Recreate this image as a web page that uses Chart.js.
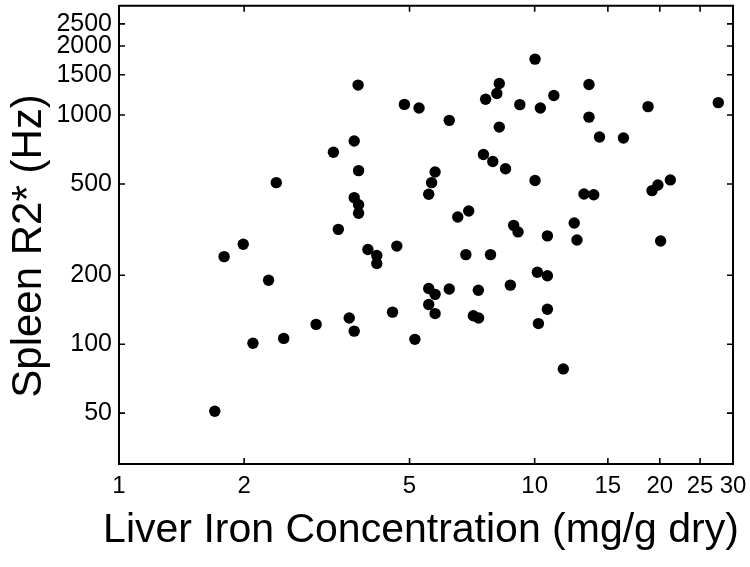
<!DOCTYPE html>
<html><head><meta charset="utf-8">
<script src="https://cdn.jsdelivr.net/npm/chart.js@4.4.1/dist/chart.umd.min.js"></script>
<style>html,body{margin:0;padding:0;background:#fff}</style>
</head><body>
<canvas id="c" width="750" height="567"></canvas>
<script>
// Liver iron concentration (mg/g dry) for each patient
const liverIron = [1.70,1.79,1.99,2.10,2.29,2.39,2.49,2.98,3.28,3.37,3.58,3.68,3.68,3.68,3.76,3.77,3.77,3.77,3.97,4.17,4.17,4.55,4.66,4.86,5.15,5.27,5.56,5.56,5.56,5.65,5.76,5.76,5.76,6.23,6.23,6.53,6.83,6.94,7.12,7.32,7.33,7.53,7.62,7.83,7.93,8.11,8.22,8.22,8.51,8.74,8.90,9.12,9.21,10.02,10.02,10.15,10.21,10.32,10.73,10.73,10.73,11.12,11.72,12.45,12.64,13.14,13.51,13.51,13.87,14.32,16.35,18.74,19.16,19.79,20.09,21.20,27.65];
// Spleen R2* (Hz) for each patient
const spleenR2 = [51,241,273,101,190,507,106,122,688,317,130,770,436,114,1351,572,406,373,259,244,225,138,268,1113,105,1073,451,175,149,507,564,165,136,948,174,359,246,381,133,172,130,673,1171,246,627,1241,1372,886,583,181,330,309,1110,1754,518,206,123,1073,297,199,142,1216,78,338,285,452,1360,979,449,802,794,1088,468,495,282,521,1133];
const xTickValues = [1,2,5,10,15,20,25,30];
const yTickValues = [50,100,200,500,1000,1500,2000,2500];
const xTitle = 'Liver Iron Concentration (mg/g dry)';
const yTitle = 'Spleen R2* (Hz)';

const FONT = '"Liberation Sans", Arial, Helvetica, sans-serif';

const framePlugin = {
  id: 'frame',
  afterDraw(chart) {
    const {ctx, chartArea: a, scales: {x, y}} = chart;
    ctx.save();
    ctx.strokeStyle = '#000';
    ctx.lineWidth = 2;
    ctx.beginPath();
    ctx.moveTo(a.left, a.top); ctx.lineTo(a.right, a.top); ctx.lineTo(a.right, a.bottom);
    ctx.stroke();
    ctx.lineWidth = 1.6;
    const L = 6;
    ctx.beginPath();
    xTickValues.forEach(v => {
      const px = x.getPixelForValue(v);
      ctx.moveTo(px, a.bottom); ctx.lineTo(px, a.bottom - L);
      ctx.moveTo(px, a.top); ctx.lineTo(px, a.top + L);
    });
    yTickValues.forEach(v => {
      const py = y.getPixelForValue(v);
      ctx.moveTo(a.left, py); ctx.lineTo(a.left + L, py);
      ctx.moveTo(a.right, py); ctx.lineTo(a.right - L, py);
    });
    ctx.stroke();
    ctx.fillStyle = '#000';
    ctx.font = '41px ' + FONT;
    ctx.textAlign = 'center';
    ctx.textBaseline = 'alphabetic';
    ctx.fillText(xTitle, (a.left + a.right) / 2 - 5, 542);
    ctx.font = '42px ' + FONT;
    ctx.translate(29, 246);
    ctx.rotate(-Math.PI / 2);
    ctx.textBaseline = 'middle';
    ctx.fillText(yTitle, 0, 0);
    ctx.restore();
  }
};

new Chart(document.getElementById('c'), {
  type: 'scatter',
  data: {
    datasets: [{
      data: liverIron.map((v, i) => ({x: v, y: spleenR2[i]})),
      backgroundColor: '#000',
      borderWidth: 0,
      pointRadius: 5.7,
      pointHoverRadius: 5.7
    }]
  },
  options: {
    responsive: false,
    animation: false,
    devicePixelRatio: 1,
    layout: {padding: {top: 5, right: 17, left: 0, bottom: 0}},
    plugins: {legend: {display: false}, tooltip: {enabled: false}},
    scales: {
      x: {
        type: 'logarithmic', min: 1, max: 30,
        afterBuildTicks: s => { s.ticks = xTickValues.map(v => ({value: v})); },
        afterFit: s => { s.height = 103; s.paddingLeft = 0; s.paddingRight = 0; },
        grid: {display: false, drawTicks: false},
        border: {display: true, color: '#000', width: 2},
        ticks: {autoSkip: false, maxRotation: 0, minRotation: 0, padding: 8, color: '#000',
          font: {family: FONT, size: 24}, callback: v => String(v)}
      },
      y: {
        type: 'logarithmic', min: 30, max: 3000,
        afterBuildTicks: s => { s.ticks = yTickValues.map(v => ({value: v})); },
        afterFit: s => { s.width = 119; s.paddingTop = 0; s.paddingBottom = 0; },
        grid: {display: false, drawTicks: false},
        border: {display: true, color: '#000', width: 2},
        ticks: {autoSkip: false, padding: 7, color: '#000',
          font: {family: FONT, size: 25}, callback: v => String(v)}
      }
    }
  },
  plugins: [framePlugin]
});
</script>
</body></html>
